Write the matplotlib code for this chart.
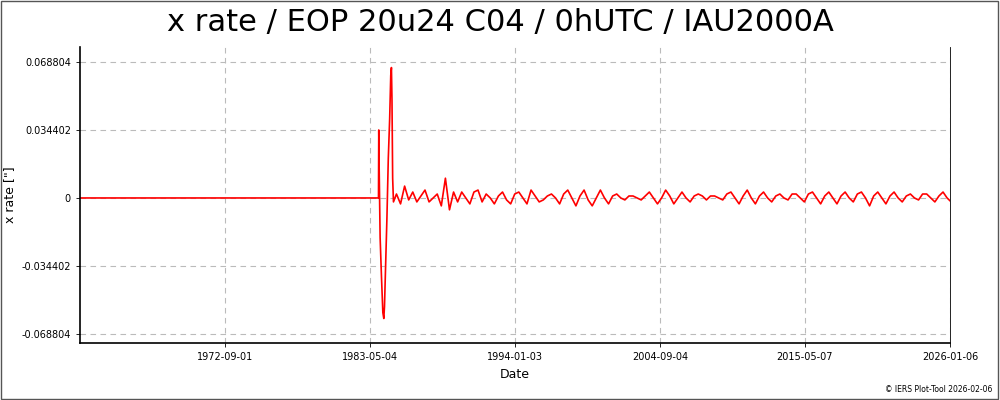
import matplotlib
matplotlib.use("Agg")
import matplotlib.pyplot as plt
import numpy as np
import datetime as dt

# segment 1: flat zero, then spike
spike_years = [1962.0, 1983.98, 1984.0, 1984.03, 1984.1, 1984.2, 1984.3, 1984.37, 1984.42, 1984.5, 1984.6,
               1984.7, 1984.8, 1984.88, 1984.93, 1984.97, 1985.02, 1985.08]
spike_vals = [0.0, 0.0, 0.0344, 0.015, -0.020, -0.040, -0.058, -0.061, -0.055, -0.035, -0.010,
              0.020, 0.040, 0.062, 0.066, 0.050, 0.010, -0.002]

# segment 2: oscillating tail, one value every 0.3 year from 1985.3 (units 1e-3 arcsec)
tail_start = 1985.3
tail_step = 0.3
tail_vals = [2, -3, 6, -1, 3, -2, 1, 4, -2, 0, 2, -4, 10, -6, 3, -2, 3, 0, -3, 3,
             4, -2, 2, 0, -3, 1, 3, -1, -3, 2, 3, 0, -3, 4, 1, -2, -1, 1, 2, 0,
             -3, 2, 4, 0, -4, 1, 4, -1, -4, 0, 4, 0, -3, 1, 2, 0, -1, 1, 1, 0,
             -1, 1, 3, 0, -3, 0, 4, 1, -3, 0, 3, 0, -2, 1, 2, 1, -1, 1, 1, 0,
             -1, 2, 3, 0, -3, 1, 4, 0, -3, 1, 3, 0, -2, 1, 2, 0, -1, 2, 2, 0,
             -2, 2, 3, 0, -3, 1, 3, 0, -3, 1, 3, 0, -2, 2, 3, 0, -4, 1, 3, 0,
             -3, 1, 3, 0, -2, 1, 2, 0, -1, 2, 2, 0, -2, 1, 3, 0, -2, 2, -1]

yticks = [-0.068804, -0.034402, 0, 0.034402, 0.068804]
ytick_labels = ["-0.068804", "-0.034402", "0", "0.034402", "0.068804"]
xtick_labels = ["1972-09-01", "1983-05-04", "1994-01-03", "2004-09-04", "2015-05-07", "2026-01-06"]


def yr2date(y):
    yi = int(np.floor(y))
    start = dt.datetime(yi, 1, 1)
    end = dt.datetime(yi + 1, 1, 1)
    return start + (end - start) * (y - yi)


years = list(spike_years) + [tail_start + i * tail_step for i in range(len(tail_vals))]
vals = list(spike_vals) + [v * 1e-3 for v in tail_vals]
dates = [yr2date(y) for y in years]

fig = plt.figure(figsize=(10, 4), dpi=100)
ax = fig.add_axes([0.08, 0.1425, 0.87, 0.74])
ax.plot(dates, vals, color="red", lw=1.2)

ax.set_xlim(dt.datetime(1962, 1, 10), dt.datetime(2026, 1, 6))
ax.set_ylim(-0.0734, 0.0764)
xt = [dt.datetime.strptime(s, "%Y-%m-%d") for s in xtick_labels]
ax.set_xticks(xt)
ax.set_xticklabels(xtick_labels, fontsize=7)
ax.set_yticks(yticks)
ax.set_yticklabels(ytick_labels, fontsize=7)
ax.grid(True, ls=(0, (5, 4)), color="#bbbbbb", lw=0.8)
ax.spines["top"].set_visible(False)
ax.spines["right"].set_linewidth(0.6)
ax.spines["left"].set_linewidth(1.2)
ax.spines["bottom"].set_linewidth(1.2)
ax.tick_params(length=3, width=0.6)
ax.set_xlabel("Date", fontsize=9)
ax.set_ylabel('x rate ["]', fontsize=9)

fig.text(0.5, 0.945, "x rate / EOP 20u24 C04 / 0hUTC / IAU2000A", ha="center", va="center", fontsize=22)
fig.text(0.992, 0.025, "© IERS Plot-Tool 2026-02-06", ha="right", va="center", fontsize=5.5)
fig.add_artist(plt.Rectangle((0.001, 0.002), 0.997, 0.995, transform=fig.transFigure,
                             fill=False, ec="#555555", lw=1))
fig.savefig("out.png", dpi=100)
